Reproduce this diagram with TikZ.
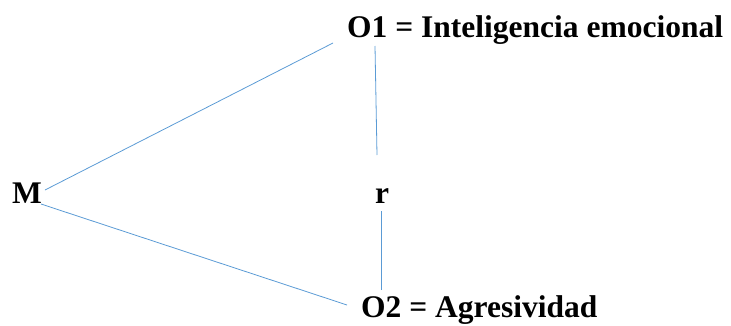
\documentclass[tikz,border=0pt]{standalone}
\usepackage{fontspec}
\setmainfont{Liberation Serif}
\begin{document}
\begin{tikzpicture}[x=1pt,y=1pt,
  lbl/.style={font=\fontsize{31.5}{36}\selectfont\bfseries, inner sep=0pt, anchor=base west},
  conn/.style={draw=blue!45!cyan!70!black, line width=0.8pt, color={rgb,255:red,91;green,155;blue,213}}]
\useasboundingbox (0,0) rectangle (731,325);
\node[lbl] (o1) at (347,288) {O1 = Inteligencia emocional};
\node[lbl] (m) at (12,122) {M};
\node[lbl] (r) at (375,122) {r};
\node[lbl] (o2) at (361,8) {O2 = Agresividad};
\coordinate (m1) at (45,135);
\coordinate (o1a) at (333,282);
\coordinate (m2) at (41,121);
\coordinate (o2a) at (347,20);
\coordinate (o1b) at (375,279);
\coordinate (r1) at (377,170);
\coordinate (r2) at (381,114);
\coordinate (o2b) at (381,35);
\draw[conn] (m1) -- (o1a);
\draw[conn] (m2) -- (o2a);
\draw[conn] (o1b) -- (r1);
\draw[conn] (r2) -- (o2b);
\end{tikzpicture}
\end{document}
